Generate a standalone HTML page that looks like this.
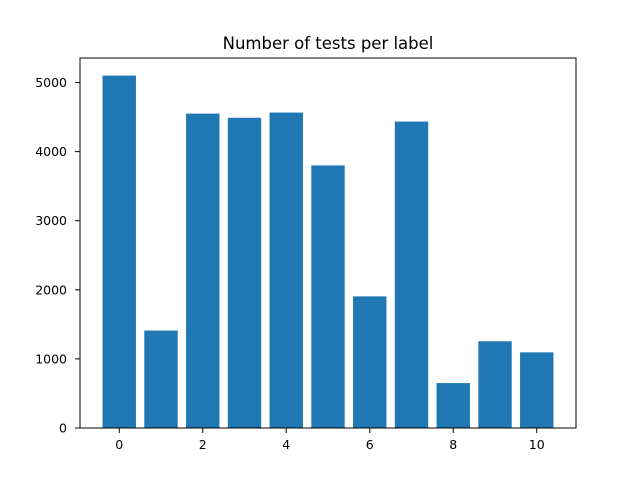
<!DOCTYPE html>
<html><head><meta charset="utf-8"><style>
body{margin:0;background:#fff;}
svg{display:block;font-family:"DejaVu Sans","Liberation Sans",sans-serif;}
</style></head><body>
<svg id="chart" width="640" height="480">
<rect width="640" height="480" fill="#fff"/>
<text x="328" y="49" text-anchor="middle" font-size="16.5">Number of tests per label</text>
<g id="bars"></g>
<g id="axes"></g>
</svg>
<script>
const categories = [0,1,2,3,4,5,6,7,8,9,10];
const counts = [5100,1410,4550,4490,4565,3800,1905,4435,650,1255,1095];
const xTicks = [0,2,4,6,8,10];
const yTicks = [0,1000,2000,3000,4000,5000];

const L=80,R=576,T=58,B=428;
const xmin=-0.94,xmax=10.94,ymax=Math.max(...counts)*1.05;
const xs=v=>L+(v-xmin)/(xmax-xmin)*(R-L);
const ys=v=>B-v/ymax*(B-T);
const NS='http://www.w3.org/2000/svg';
const bars=document.getElementById('bars'),axes=document.getElementById('axes');
function mk(tag,attrs,parent){const e=document.createElementNS(NS,tag);for(const k in attrs)e.setAttribute(k,attrs[k]);parent.appendChild(e);return e;}
categories.forEach((c,i)=>{
  const x0=xs(c-0.4),x1=xs(c+0.4);
  const r=mk('rect',{x:x0,y:ys(counts[i]),width:x1-x0,height:B-ys(counts[i]),fill:'#1f77b4'},bars);
  
  
});
const frame=mk('rect',{x:L,y:T,width:R-L,height:B-T,fill:'none',stroke:'#000','stroke-width':1},axes);


xTicks.forEach(t=>{
  const x=xs(t);
  mk('line',{x1:x,x2:x,y1:B,y2:B+5,stroke:'#000','stroke-width':1},axes);
  const tx=mk('text',{x:x,y:B+21,'text-anchor':'middle','font-size':12.5},axes);
  tx.textContent=t;
  
  
});
yTicks.forEach(t=>{
  const y=ys(t);
  mk('line',{x1:L-5,x2:L,y1:y,y2:y,stroke:'#000','stroke-width':1},axes);
  const tx=mk('text',{x:L-13,y:y+4.5,'text-anchor':'end','font-size':12.5},axes);
  tx.textContent=t;
  
  
});
</script>
</body></html>
